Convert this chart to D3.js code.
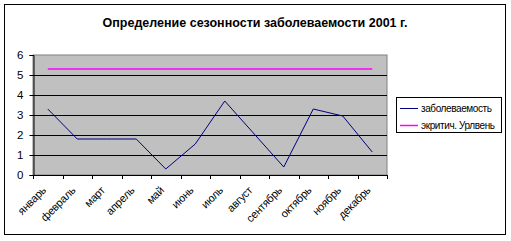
<!DOCTYPE html>
<html>
<head>
<meta charset="utf-8">
<script src="https://cdn.jsdelivr.net/npm/d3@7"></script>
<style>
  body { margin: 0; background: #fff; }
  svg { font-family: Arial, "Liberation Sans", sans-serif; }
</style>
</head>
<body>
<div id="chart"></div>
<script>
// Data________________________________________________________________
const months = ['январь', 'февраль', 'март', 'апрель', 'май', 'июнь', 'июль', 'август', 'сентябрь', 'октябрь', 'ноябрь', 'декабрь'];
const incidence = [3.3, 1.8, 1.8, 1.8, 0.3, 1.55, 3.7, 2.05, 0.4, 3.3, 2.95, 1.15];
const critical = [5.3, 5.3, 5.3, 5.3, 5.3, 5.3, 5.3, 5.3, 5.3, 5.3, 5.3, 5.3];
const yTicks = [0, 1, 2, 3, 4, 5, 6];
const seriesNames = ['заболеваемость', 'экритич. Урлвень'];
const seriesColors = ['#000080', '#ff00ff'];

// Sizes_______________________________________________________________
const width = 511, height = 241;
const plot = { left: 33, right: 387, top: 55, bottom: 175 };

const svg = d3.select('#chart').append('svg')
    .attr('width', width)
    .attr('height', height);

// outer frame
svg.append('rect')
    .attr('x', 4.5).attr('y', 4.5)
    .attr('width', 501).attr('height', 230)
    .attr('fill', '#fff')
    .attr('stroke', '#000');

svg.append('text')
    .attr('x', 255).attr('y', 27)
    .attr('text-anchor', 'middle')
    .attr('font-size', 12.5)
    .attr('font-weight', 'bold')
    .text('Определение сезонности заболеваемости 2001 г.');

const x = d3.scaleBand().domain(months).range([plot.left, plot.right]);
const y = d3.scaleLinear().domain([0, 6]).range([plot.bottom, plot.top]);

// plot area
svg.append('rect')
    .attr('x', plot.left).attr('y', plot.top)
    .attr('width', plot.right - plot.left)
    .attr('height', plot.bottom - plot.top)
    .attr('fill', '#c0c0c0')
    .attr('stroke', '#808080');

// gridlines
svg.append('g')
    .selectAll('line')
    .data(yTicks.filter(d => d > 0 && d < 6))
    .enter()
    .append('line')
    .attr('x1', plot.left).attr('x2', plot.right)
    .attr('y1', d => Math.round(y(d)) + 0.5)
    .attr('y2', d => Math.round(y(d)) + 0.5)
    .attr('stroke', '#000');

// y axis
const yAxis = d3.axisLeft(y).tickValues(yTicks).tickFormat(d3.format('d')).tickSize(4).tickPadding(6);
svg.append('g')
    .attr('transform', `translate(${plot.left + 0.5},0)`)
    .call(yAxis)
    .call(g => g.selectAll('text').attr('font-size', 11.5).attr('fill', '#000').attr('font-family', 'Arial, "Liberation Sans", sans-serif'))
    .call(g => g.selectAll('line').attr('stroke', '#000'))
    .call(g => g.select('.domain').attr('stroke', '#000'));

// x axis: ticks at category boundaries
svg.append('line')
    .attr('x1', plot.left).attr('x2', plot.right)
    .attr('y1', plot.bottom + 0.5).attr('y2', plot.bottom + 0.5)
    .attr('stroke', '#000');
svg.append('g')
    .selectAll('line')
    .data(months.concat(['end']))
    .enter()
    .append('line')
    .attr('x1', (d, i) => Math.round(i < months.length ? x(d) : plot.right) + 0.5)
    .attr('x2', (d, i) => Math.round(i < months.length ? x(d) : plot.right) + 0.5)
    .attr('y1', plot.bottom)
    .attr('y2', plot.bottom + 4)
    .attr('stroke', '#000');

svg.append('g')
    .selectAll('text')
    .data(months)
    .enter()
    .append('text')
    .attr('transform', d => `translate(${x(d) + x.bandwidth() / 2 - 1},${plot.bottom + 16}) rotate(-45)`)
    .attr('text-anchor', 'end')
    .attr('font-size', 11)
    .attr('letter-spacing', -0.2)
    .text(d => d);

// lines
const line = d3.line()
    .x((d, i) => x(months[i]) + x.bandwidth() / 2)
    .y(d => y(d));

[incidence, critical].forEach((series, k) => {
    svg.append('path')
        .datum(series)
        .attr('d', line)
        .attr('fill', 'none')
        .attr('stroke', seriesColors[k])
        .attr('stroke-width', k === 1 ? 1.5 : 1);
});

// Legend______________________________________________________________
const legend = svg.append('g');
legend.append('rect')
    .attr('x', 396.5).attr('y', 97.5)
    .attr('width', 105).attr('height', 35)
    .attr('fill', '#fff')
    .attr('stroke', '#000');
seriesNames.forEach((name, i) => {
    legend.append('line')
        .attr('x1', 400).attr('x2', 418)
        .attr('y1', 108.5 + i * 17).attr('y2', 108.5 + i * 17)
        .attr('stroke', seriesColors[i])
        .attr('stroke-width', i === 1 ? 1.5 : 1);
    legend.append('text')
        .attr('x', 421).attr('y', 112 + i * 17)
        .attr('font-size', 10)
        .attr('letter-spacing', -0.4)
        .text(name);
});
</script>
</body>
</html>
